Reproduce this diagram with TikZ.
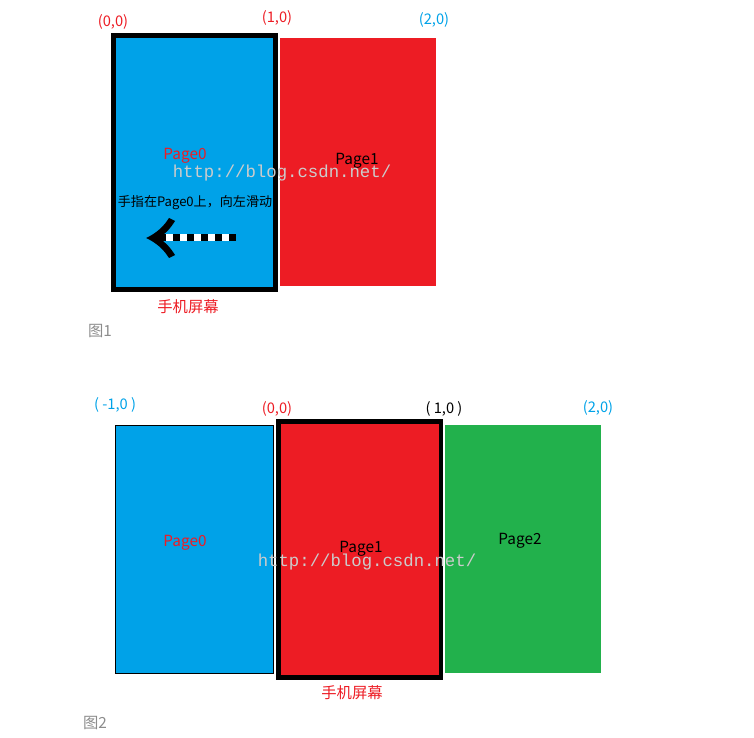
\documentclass[tikz,border=0pt]{standalone}
\usepackage{fontspec}
\setmainfont{Noto Sans CJK SC}
\setmonofont{Liberation Mono}
\usetikzlibrary{arrows.meta}
\definecolor{paintblue}{HTML}{00A2E8}
\definecolor{paintred}{HTML}{ED1C24}
\definecolor{paintgreen}{HTML}{22B14C}
\definecolor{captiongray}{HTML}{8C8C8C}
\tikzset{>=Latex,
  every node/.style={font=\fontsize{11.5}{13}\selectfont,inner sep=0pt},
  coordlabel/.style={font=\fontsize{11}{13}\selectfont},
  pagelabel/.style={font=\fontsize{11.5}{13}\selectfont},
  hint/.style={font=\fontsize{9.8}{11}\selectfont},
  caption/.style={text=captiongray,font=\fontsize{11.5}{13}\selectfont},
  screen/.style={draw=black,line width=3.5pt},
  swipe/.style={line width=5.25pt,dash pattern=on 5.25pt off 5.25pt},
  watermark/.style={text=gray!40,font=\ttfamily\fontsize{13}{15}\selectfont}}

\begin{document}
\begin{tikzpicture}[x=.75pt,y=-.75pt]
\useasboundingbox (0,0) rectangle (754,738);
% figure 1
\fill[paintblue] (116,38) rectangle (273,287);
\fill[paintred] (280,38) rectangle (436,286);
\draw[screen] (113.5,35.5) rectangle (275.5,289.5);
\node[coordlabel,text=paintred] (o1) at (113,22) {(0,0)};
\node[coordlabel,text=paintred] (p1) at (277,18) {(1,0)};
\node[coordlabel,text=paintblue] (q1) at (434,20) {(2,0)};
\node[pagelabel,text=paintred] (page0a) at (185,156) {Page0};
\node[pagelabel] (page1a) at (357,161) {Page1};
\node[watermark] (mark1) at (282,173) {http://blog.csdn.net/};
\node[hint] (hint) at (195,203) {手指在Page0上，向左滑动};
\coordinate (swipestart) at (236,238);
\coordinate (swipeend) at (158,238);
\draw[white,line width=5.25pt] (swipestart) -- (swipeend);
\draw[swipe] (swipestart) -- (swipeend);
% arrow head
\fill (146,238) .. controls (157,233) and (164,226) .. (169,218)
  -- (175,221) .. controls (170,229) and (165,234) .. (159,238)
  .. controls (165,242) and (170,247) .. (175,255)
  -- (169,258) .. controls (164,250) and (157,243) .. cycle;
\node[text=paintred] (screen1) at (188,307) {手机屏幕};
\node[caption] (fig1) at (100,331) {图1};
% figure 2
\filldraw[fill=paintblue,draw=black,line width=.75pt] (115,425) rectangle (273,673);
\fill[paintred] (281,424) rectangle (439,676);
\fill[paintgreen] (445,425) rectangle (601,673);
\draw[screen] (278.5,421.5) rectangle (441,677.5);
\node[coordlabel,text=paintblue] (m2) at (115,405) {( -1,0 )};
\node[coordlabel,text=paintred] (o2) at (277,409) {(0,0)};
\node[coordlabel] (p2) at (444,409) {( 1,0 )};
\node[coordlabel,text=paintblue] (q2) at (598,408) {(2,0)};
\node[pagelabel,text=paintred] (page0b) at (185,543) {Page0};
\node[pagelabel] (page1b) at (361,549) {Page1};
\node[pagelabel] (page2b) at (520,541) {Page2};
\node[watermark] (mark2) at (367,562) {http://blog.csdn.net/};
\node[text=paintred] (screen2) at (352,693) {手机屏幕};
\node[caption] (fig2) at (95,723) {图2};
\end{tikzpicture}
\end{document}
